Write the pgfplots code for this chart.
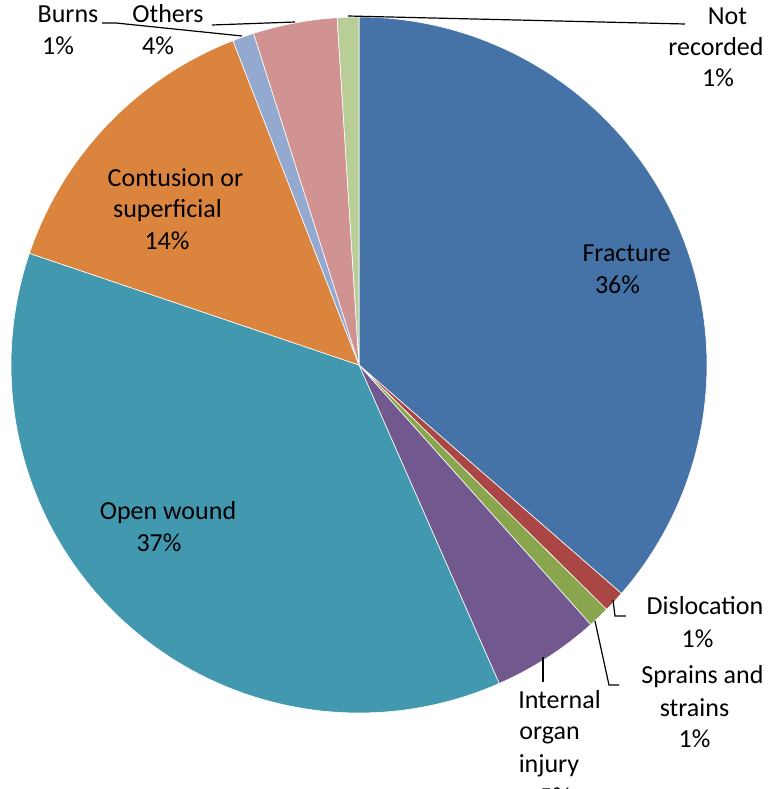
\documentclass[border=0pt]{standalone}
\usepackage{fontspec}
\setmainfont{Carlito}
\usepackage{pgfplots}
\usepackage{pgfplotstable}
\pgfplotsset{compat=1.18}

% Slice colours
\definecolor{cFracture}{RGB}{69,114,167}
\definecolor{cDislocation}{RGB}{170,70,67}
\definecolor{cSprains}{RGB}{137,165,78}
\definecolor{cInternal}{RGB}{113,88,143}
\definecolor{cOpen}{RGB}{65,152,175}
\definecolor{cContusion}{RGB}{219,132,61}
\definecolor{cBurns}{RGB}{147,169,207}
\definecolor{cOthers}{RGB}{209,147,146}
\definecolor{cNotRecorded}{RGB}{185,205,150}

% Share of injuries (percent), clockwise from 12 o'clock
\pgfplotstableread[col sep=comma]{
injury,share,fillcolor
Fracture,36.4,cFracture
Dislocation,1.0,cDislocation
Sprains and strains,1.0,cSprains
Internal organ injury,5.0,cInternal
Open wound,36.8,cOpen
Contusion or superficial,13.9,cContusion
Burns,1.0,cBurns
Others,3.9,cOthers
Not recorded,1.0,cNotRecorded
}\injurytable

\tikzset{lbl/.style={font=\fontsize{13}{15.6}\selectfont, inner sep=0pt, anchor=base}}

\begin{document}
\begin{tikzpicture}
\begin{axis}[
  width=384.5pt, height=394.5pt, scale only axis,
  xmin=0, xmax=769, ymin=0, ymax=789,
  hide axis, clip=false,
]
% pie slices, centre (359,424), radius 348
\def\cum{0}
\pgfplotsforeachungrouped \i in {0,...,8}{%
  \pgfplotstablegetelem{\i}{share}\of\injurytable
  \let\share\pgfplotsretval
  \pgfplotstablegetelem{\i}{fillcolor}\of\injurytable
  \let\slicecolor\pgfplotsretval
  \pgfmathsetmacro{\start}{90-3.6*\cum}
  \pgfmathsetmacro{\stop}{90-3.6*(\cum+\share)}
  \edef\slice{\noexpand\addplot[draw=white, line width=0.3pt, fill=\slicecolor,
      domain=\stop:\start, samples=90]
    ({359+348*cos(x)}, {424+348*sin(x)}) -- (axis cs:359,424) -- cycle;}%
  \slice
  \pgfmathsetmacro{\cum}{\cum+\share}%
}

% leader lines
\draw[black, line width=0.6pt] (axis cs:348,773) -- (axis cs:685,765);
\draw[black, line width=0.6pt] (axis cs:212,764) -- (axis cs:295,767);
\draw[black, line width=0.6pt] (axis cs:102,766) -- (axis cs:116,766) -- (axis cs:242,753);
\draw[black, line width=0.6pt] (axis cs:613,189) -- (axis cs:615,173) -- (axis cs:626,173);
\draw[black, line width=0.6pt] (axis cs:595,168) -- (axis cs:609,104) -- (axis cs:619,104);
\draw[black, line width=0.6pt] (axis cs:543,132) -- (axis cs:543,107);

% data labels
\node[lbl] at (axis cs:626.5,527) {Fracture};
\node[lbl] at (axis cs:617.5,495) {36\%};
\node[lbl] at (axis cs:175.5,602) {Contusion or};
\node[lbl] at (axis cs:167.5,571) {superficial};
\node[lbl] at (axis cs:167,539) {14\%};
\node[lbl] at (axis cs:168,269) {Open wound};
\node[lbl] at (axis cs:159,237) {37\%};
\node[lbl] at (axis cs:559.5,81) {Internal};
\node[lbl] at (axis cs:549.5,49) {organ};
\node[lbl] at (axis cs:549,17) {injury};
\node[lbl] at (axis cs:555,-17) {5\%};
\node[lbl] at (axis cs:705,174) {Dislocation};
\node[lbl] at (axis cs:697.5,141) {1\%};
\node[lbl] at (axis cs:702.5,105) {Sprains and};
\node[lbl] at (axis cs:694.5,72) {strains};
\node[lbl] at (axis cs:694.5,41) {1\%};
\node[lbl] at (axis cs:68,766) {Burns};
\node[lbl] at (axis cs:58,734) {1\%};
\node[lbl] at (axis cs:168,766) {Others};
\node[lbl] at (axis cs:158,734) {4\%};
\node[lbl] at (axis cs:727.5,764) {Not};
\node[lbl] at (axis cs:716,733) {recorded};
\node[lbl] at (axis cs:718,702) {1\%};
\end{axis}
\pgfresetboundingbox
\path[use as bounding box] (current axis.south west) rectangle (current axis.north east);
\end{tikzpicture}
\end{document}
